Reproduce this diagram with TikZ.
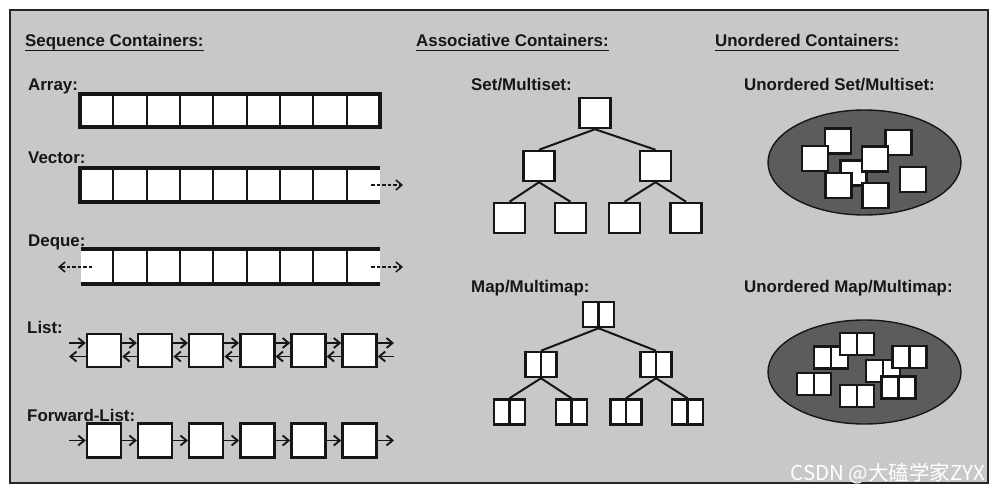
\documentclass[tikz,border=0pt]{standalone}
\usepackage{fontspec}
\setmainfont{Liberation Sans}
\newfontfamily\cjkfont{Noto Sans CJK SC}
\usetikzlibrary{arrows.meta}
\definecolor{panel}{RGB}{200,200,200}
\definecolor{ellfill}{RGB}{92,92,92}
\definecolor{ink}{RGB}{22,22,22}
\begin{document}
\begin{tikzpicture}[x=1pt,y=-1pt,
  lbl/.style={anchor=base west, inner sep=0pt, text=ink, font=\fontsize{16.9}{18}\selectfont\bfseries},
  ttl/.style={lbl},
  cellbox/.style={draw=ink, line width=2.5pt, fill=white, inner sep=0pt, minimum width=34pt, minimum height=33pt},
  treebox/.style={draw=ink, line width=2.5pt, fill=white, inner sep=0pt, minimum width=31pt, minimum height=30pt},
  mapbox/.style={draw=ink, line width=2.5pt, fill=white, inner sep=0pt, minimum width=31pt, minimum height=25pt,
    path picture={\draw[ink, line width=2.2pt] (path picture bounding box.north) -- (path picture bounding box.south);}},
  usq/.style={draw=ink, line width=2.5pt, fill=white, inner sep=0pt, minimum width=26pt, minimum height=25pt},
  umap/.style={mapbox, minimum width=34pt, minimum height=22pt},
  link/.style={draw=ink, line width=1.9pt, -{Straight Barb[length=6pt,width=10pt]}},
  dasharrow/.style={draw=ink, line width=1.5pt, dash pattern=on 3.5pt off 2pt, -{Straight Barb[length=6pt,width=10pt]}},
  edge/.style={draw=ink, line width=2pt},
  thickbar/.style={draw=ink, line width=4.2pt},
  divider/.style={draw=ink, line width=2.2pt},
  ell/.style={draw=ink, line width=1.4pt, fill=ellfill}
]
\useasboundingbox (0,0) rectangle (997,495);
\fill[white] (0,0) rectangle (997,495);
\draw[fill=panel, draw=black!85, line width=1.8pt] (10,10) rectangle (988,483);

% titles
\node[ttl] (t1) at (25,47) {Sequence Containers:};
\node[ttl] (t2) at (416,47) {Associative Containers:};
\node[ttl] (t3) at (715,47) {Unordered Containers:};
\foreach \t in {t1,t2,t3}
  \draw[ink, line width=1.6pt] ([yshift=-3.5pt]\t.base west) -- ([yshift=-3.5pt]\t.base east);

% labels
\node[lbl] (lArray) at (28,91) {Array:};
\node[lbl] (lVector) at (28,163) {Vector:};
\node[lbl] (lDeque) at (28,246) {Deque:};
\node[lbl] (lList) at (27,333) {List:};
\node[lbl] (lFwd) at (27,421) {Forward-List:};
\node[lbl] (lSet) at (471,91) {Set/Multiset:};
\node[lbl] (lMap) at (471,292) {Map/Multimap:};
\node[lbl] (lUSet) at (744,91) {Unordered Set/Multiset:};
\node[lbl] (lUMap) at (744,292) {Unordered Map/Multimap:};

% Array
\fill[white] (80,94) rectangle (380,127);
\foreach \i in {1,...,8} \draw[divider] ({80+33.33*\i},94) -- ({80+33.33*\i},127);
\draw[thickbar] (80,94) rectangle (380,127);

% Vector
\fill[white] (80,168) rectangle (380,202);
\foreach \i in {1,...,8} \draw[divider] ({80+33.33*\i},168) -- ({80+33.33*\i},202);
\draw[thickbar] (380,168) -- (80,168) -- (80,202) -- (380,202);
\coordinate (v1) at (371,185);
\coordinate (v2) at (403,185);
\draw[dasharrow] (v1) -- (v2);

% Deque
\fill[white] (81,249) rectangle (380,284);
\foreach \i in {1,...,8} \draw[divider] ({80+33.33*\i},249) -- ({80+33.33*\i},284);
\draw[thickbar] (81,249) -- (380,249);
\draw[thickbar] (81,284) -- (380,284);
\coordinate (d1) at (92,267);
\coordinate (d2) at (58,267);
\coordinate (d3) at (371,267);
\coordinate (d4) at (403,267);
\draw[dasharrow] (d1) -- (d2);
\draw[dasharrow] (d3) -- (d4);

% List
\foreach \i in {1,...,6} \node[cellbox] (L\i) at ({104+51.1*(\i-1)},350.5) {};
\coordinate (Ls) at (69,350.5);
\coordinate (Le) at (394,350.5);
\draw[link] ([yshift=7.5pt]Ls) -- ([yshift=7.5pt]L1.west);
\draw[link] ([yshift=-6pt]L1.west) -- ([yshift=-6pt]Ls);
\foreach \i/\j in {1/2,2/3,3/4,4/5,5/6} {
  \draw[link] ([yshift=7.5pt]L\i.east) -- ([yshift=7.5pt]L\j.west);
  \draw[link] ([yshift=-6pt]L\j.west) -- ([yshift=-6pt]L\i.east);
}
\draw[link] ([yshift=7.5pt]L6.east) -- ([yshift=7.5pt]Le);
\draw[link] ([yshift=-6pt]Le) -- ([yshift=-6pt]L6.east);

% Forward list
\foreach \i in {1,...,6} \node[cellbox, minimum height=34pt] (F\i) at ({104+51.1*(\i-1)},440.5) {};
\coordinate (Fs) at (69,440.5);
\coordinate (Fe) at (394,440.5);
\draw[link] (Fs) -- (F1.west);
\foreach \i/\j in {1/2,2/3,3/4,4/5,5/6} \draw[link] (F\i.east) -- (F\j.west);
\draw[link] (F6.east) -- (Fe);

% Set tree
\node[treebox] (s0) at (595,113) {};
\node[treebox] (s1) at (539,166) {};
\node[treebox] (s2) at (655.5,166) {};
\node[treebox] (s3) at (509.5,218) {};
\node[treebox] (s4) at (570.5,218) {};
\node[treebox] (s5) at (624.5,218) {};
\node[treebox] (s6) at (686,218) {};
\draw[edge] (s0.south) -- (s1.north);
\draw[edge] (s0.south) -- (s2.north);
\draw[edge] (s1.south) -- (s3.north);
\draw[edge] (s1.south) -- (s4.north);
\draw[edge] (s2.south) -- (s5.north);
\draw[edge] (s2.south) -- (s6.north);

% Map tree
\node[mapbox] (m0) at (598.5,314.5) {};
\node[mapbox] (m1) at (541,364.5) {};
\node[mapbox] (m2) at (656,364.5) {};
\node[mapbox] (m3) at (509.5,412) {};
\node[mapbox] (m4) at (571.5,412) {};
\node[mapbox] (m5) at (626,412) {};
\node[mapbox] (m6) at (687.5,412) {};
\draw[edge] (m0.south) -- (m1.north);
\draw[edge] (m0.south) -- (m2.north);
\draw[edge] (m1.south) -- (m3.north);
\draw[edge] (m1.south) -- (m4.north);
\draw[edge] (m2.south) -- (m5.north);
\draw[edge] (m2.south) -- (m6.north);

% Unordered set
\draw[ell] (864.5,162.5) ellipse [x radius=96.5, y radius=52.5];
\node[usq] (uA) at (838,141) {};
\node[usq] (uB) at (815,158.5) {};
\node[usq] (uC) at (898.5,142.5) {};
\node[usq] (uE) at (853.5,173) {};
\node[usq] (uD) at (875,159) {};
\node[usq] (uF) at (838.5,185.5) {};
\node[usq] (uG) at (875.5,195.5) {};
\node[usq] (uH) at (913,179.5) {};

% Unordered map
\draw[ell] (864.5,372) ellipse [x radius=96.5, y radius=52];
\node[umap] (ua) at (831,357.5) {};
\node[umap] (ub) at (857,344) {};
\node[umap] (ud) at (883,371) {};
\node[umap] (uc) at (909.5,357) {};
\node[umap] (ue) at (898.5,387.5) {};
\node[umap] (uf) at (814,384) {};
\node[umap] (ug) at (857,396) {};

% watermark
\node[anchor=base east, inner sep=0pt, text=white, font=\cjkfont\fontsize{20.5}{22}\selectfont] (wm) at (985,480) {CSDN @大磕学家ZYX};
\end{tikzpicture}
\end{document}
